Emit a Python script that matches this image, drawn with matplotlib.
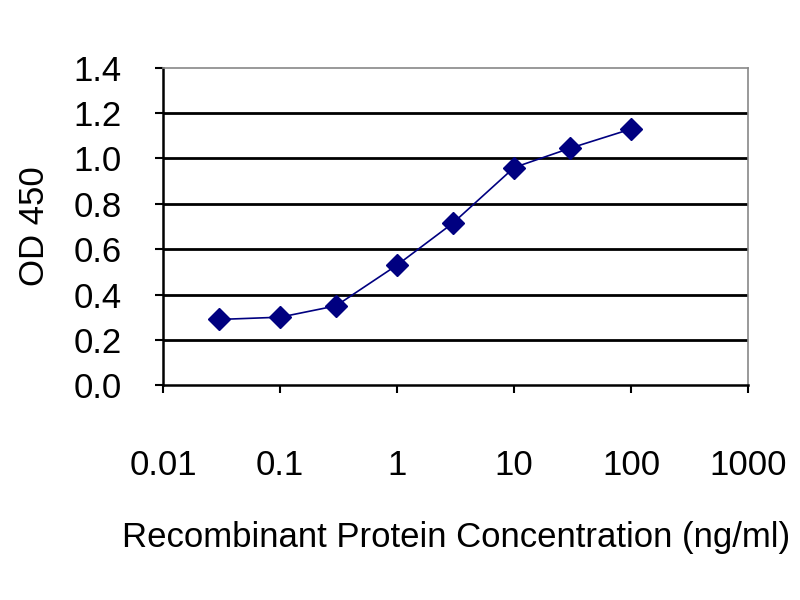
import matplotlib
matplotlib.use("Agg")
import matplotlib.pyplot as plt
from matplotlib.ticker import FixedLocator, FixedFormatter, NullLocator

conc = [0.03, 0.1, 0.3, 1, 3, 10, 30, 100]
od450 = [0.29, 0.30, 0.35, 0.53, 0.715, 0.96, 1.045, 1.13]
xticks = [0.01, 0.1, 1, 10, 100, 1000]
xticklabels = ["0.01", "0.1", "1", "10", "100", "1000"]
yticks = [0.0, 0.2, 0.4, 0.6, 0.8, 1.0, 1.2, 1.4]
yticklabels = ["0.0", "0.2", "0.4", "0.6", "0.8", "1.0", "1.2", "1.4"]

fam = ["Liberation Sans Narrow", "Liberation Sans", "DejaVu Sans"]
plt.rcParams["font.family"] = fam

fig = plt.figure(figsize=(8, 6), dpi=100)
ax = fig.add_axes([0.204, 0.358, 0.731, 0.529])

ax.set_xscale("log")
ax.set_xlim(0.01, 1000)
ax.set_ylim(0, 1.4)

for y in yticks[1:-1]:
    ax.axhline(y, color="black", lw=2.0, zorder=1)

ax.plot(conc, od450, color="#000080", lw=1.2, marker="D", markersize=11,
        markerfacecolor="#000080", markeredgecolor="#000080", zorder=3)

ax.xaxis.set_major_locator(FixedLocator(xticks))
ax.xaxis.set_major_formatter(FixedFormatter(xticklabels))
ax.xaxis.set_minor_locator(NullLocator())
ax.yaxis.set_major_locator(FixedLocator(yticks))
ax.yaxis.set_major_formatter(FixedFormatter(yticklabels))

ax.tick_params(axis="x", direction="out", length=6, width=1.5, pad=40, labelsize=25)
ax.tick_params(axis="y", direction="out", length=6, width=1.5, pad=24, labelsize=25)

for s in ["left", "bottom"]:
    ax.spines[s].set_color("black")
    ax.spines[s].set_linewidth(1.8)
for s in ["top", "right"]:
    ax.spines[s].set_color("#888888")
    ax.spines[s].set_linewidth(1.2)

ax.set_xlabel("Recombinant Protein Concentration (ng/ml)", fontsize=25, labelpad=28)
ax.set_ylabel("OD 450", fontsize=25, labelpad=16)

fig.savefig("out.png", dpi=100, facecolor="white")
